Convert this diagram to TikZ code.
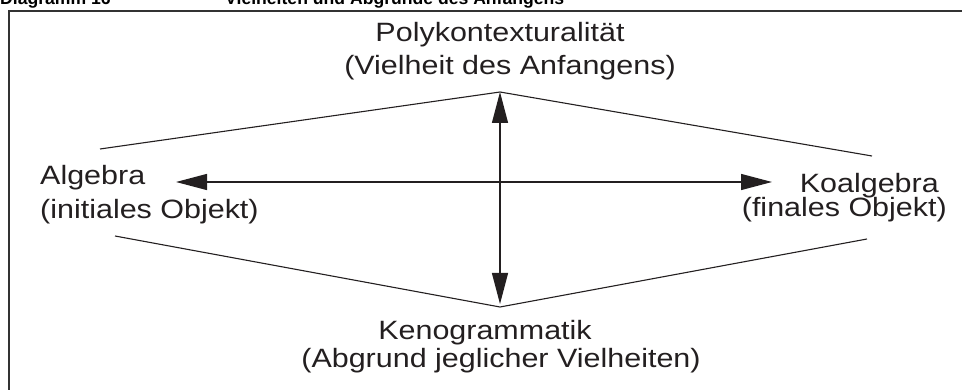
\documentclass[tikz,border=0pt]{standalone}
\usepackage{fontspec}
\setmainfont[FakeStretch=1.15]{Liberation Sans}
\newfontfamily\hdfont{Liberation Sans}
\usetikzlibrary{arrows.meta}
\definecolor{cInk}{HTML}{231F20}
\definecolor{cFrame}{HTML}{333333}
\tikzset{
  arrow/.style={{Triangle[length=31pt,width=16pt]}-{Triangle[length=31pt,width=16pt]}, line width=1.3pt, draw=cInk},
  rim/.style  ={line width=1.1pt, draw=cInk},
  term/.style ={inner sep=0pt, text=cInk, font=\fontsize{26.5}{30}\selectfont},
  hd/.style   ={inner sep=0pt, text=black, font=\hdfont\bfseries\fontsize{17.6}{20}\selectfont},
}

\begin{document}
\begin{tikzpicture}[x=1pt,y=-1pt]
  \useasboundingbox (0,0) rectangle (962,390);
  \draw[line width=2.4pt,cFrame] (9,400) -- (9,11) -- (975,11);
  \node[hd,anchor=base west] (diag) at (0,5){Diagramm 16};
  \node[hd,anchor=base west] (title) at (225,5){Vielheiten und Abgründe des Anfangens};

  \node[term,anchor=base] (poly) at (500,42){Polykontexturalität};
  \node[term,anchor=base] (polysub) at (510,75){(Vielheit des Anfangens)};
  \node[term,anchor=base west] (alg) at (40,185){Algebra};
  \node[term,anchor=base west] (algsub) at (40,219){(initiales Objekt)};
  \node[term,anchor=base east] (koalg) at (939,193){Koalgebra};
  \node[term,anchor=base east] (koalgsub) at (947,217){(finales Objekt)};
  \node[term,anchor=base] (keno) at (485,339){Kenogrammatik};
  \node[term,anchor=base] (kenosub) at (501,367){(Abgrund jeglicher Vielheiten)};

  \coordinate (top) at (500,92);
  \coordinate (bot) at (500,307);
  \coordinate (botTip) at (500,304);
  \coordinate (upL) at (100,149);
  \coordinate (upR) at (872,156);
  \coordinate (loL) at (115,236);
  \coordinate (loR) at (867,239);
  \coordinate (west) at (176,182);
  \coordinate (east) at (772,182);

  \draw[rim] (upL) -- (top) -- (upR);
  \draw[rim] (loL) -- (bot) -- (loR);
  \draw[arrow] (west) -- (east);
  \draw[arrow] (top) -- (botTip);
\end{tikzpicture}
\end{document}
